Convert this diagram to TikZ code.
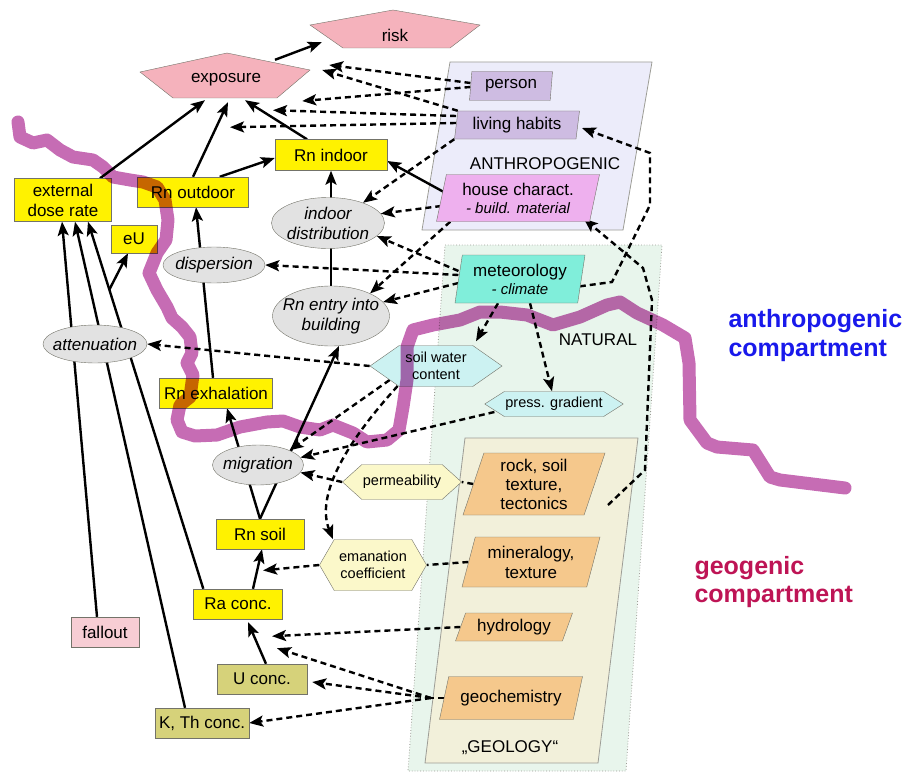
\documentclass[tikz,border=0pt]{standalone}
\usepackage{fontspec}
\setmainfont{Liberation Sans}
\usetikzlibrary{calc,arrows.meta,shapes.geometric,shapes.symbols}
\pgfdeclarelayer{regions}
\pgfdeclarelayer{links}
\pgfsetlayers{regions,links,main}
\definecolor{pinkrisk}{RGB}{245,178,188}
\definecolor{fallpink}{RGB}{247,205,212}
\definecolor{khaki}{RGB}{214,210,122}
\definecolor{lavender}{RGB}{206,188,226}
\definecolor{houseviolet}{RGB}{238,176,238}
\definecolor{anthrobg}{RGB}{236,236,250}
\definecolor{naturebg}{RGB}{232,245,236}
\definecolor{geobg}{RGB}{242,240,218}
\definecolor{geoitem}{RGB}{245,200,140}
\definecolor{meteocol}{RGB}{128,238,218}
\definecolor{palecyan}{RGB}{204,242,242}
\definecolor{paleyellow}{RGB}{251,248,202}
\definecolor{ellgray}{RGB}{226,226,226}
\definecolor{border}{RGB}{115,115,105}
\definecolor{wave}{RGB}{198,108,180}
\definecolor{anthroblue}{RGB}{25,25,235}
\definecolor{geored}{RGB}{190,20,85}

\begin{document}
\begin{tikzpicture}[x=1pt,y=-1pt,
    every node/.style={font=\fontsize{17}{20}\selectfont},
    box/.style={rectangle,draw=border,minimum height=30,inner sep=2,align=center},
    ybox/.style={box,fill=yellow},
    ell/.style={ellipse,draw=border,fill=ellgray,inner xsep=-10pt,inner ysep=-1pt,align=center,
      font=\fontsize{17}{20}\selectfont\itshape},
    para/.style 2 args={trapezium,trapezium left angle=#1,trapezium right angle=#2,
      trapezium stretches body,draw=border,inner sep=2,align=center},
    hexa/.style={signal,signal to=west and east,signal pointer angle=#1,draw=border,inner sep=1,
      align=center,font=\fontsize{14.5}{17}\selectfont},
    arr/.style={line width=2.4pt,-{Stealth[length=14pt,width=11pt,inset=3pt]}},
    darr/.style={arr,dash pattern=on 6pt off 4pt},
    dline/.style={line width=2.4pt,dash pattern=on 6pt off 4pt},
    region/.style={draw=border!70,line width=0.8pt}]
  \useasboundingbox (0,0) rectangle (917,773);

  % compartments
  \begin{pgfonlayer}{regions}
    \filldraw[region,fill=anthrobg] (450,62) -- (652,62) -- (623,230) -- (422,230) -- cycle;
    \filldraw[region,fill=naturebg,dotted] (445,245) -- (662,245) -- (626,771) -- (408,771) -- cycle;
    \filldraw[region,fill=geobg] (465,438) -- (638,438) -- (598,763) -- (425,763) -- cycle;
  \end{pgfonlayer}
  \node (anthrolabel) at (545,164) {ANTHROPOGENIC};
  \node (naturelabel) at (598,340) {NATURAL};
  \node (geolabel) at (510,748) {„GEOLOGY“};

  % exposure and risk
  \filldraw[draw=border,fill=pinkrisk] (140,72) -- (227,53) -- (310,70) -- (277,98) -- (173,98) -- cycle;
  \filldraw[draw=border,fill=pinkrisk] (310,25) -- (393,10) -- (480,25) -- (450,48) -- (343,48) -- cycle;
  \node[minimum width=170,minimum height=36] (exposure) at (226,80) {exposure};
  \node[minimum width=170,minimum height=28] (risk) at (395,35) {risk};

  % anthropogenic factors
  \node[para={82}{98},fill=lavender,minimum width=83,minimum height=29] (person) at (511,86) {person};
  \node[para={80}{100},fill=lavender,minimum width=125,minimum height=28] (habits) at (517,125) {living habits};
  \node[para={74}{106},fill=houseviolet,minimum width=163,minimum height=47] (house) at (518,198)
    {house charact.\\[-2pt]{\fontsize{15}{17}\selectfont\itshape - build. material}};

  % natural factors
  \node[para={78}{102},fill=meteocol,minimum width=130,minimum height=48] (meteo) at (520,279)
    {meteorology\\[-2pt]{\fontsize{15}{17}\selectfont\itshape - climate}};
  \node[hexa=70,fill=palecyan,minimum width=132,minimum height=41] (swc) at (436,366) {soil water\\content};
  \node[hexa=65,fill=palecyan,minimum width=132,minimum height=25] (press) at (554,404) {press. gradient};
  \node[hexa=84,fill=paleyellow,minimum width=109,minimum height=35] (perm) at (402,482) {permeability};
  \node[hexa=120,fill=paleyellow,minimum width=107,minimum height=51] (eman) at (373,565) {emanation\\coefficient};
  \node[para={69}{111},fill=geoitem,minimum width=142,minimum height=62] (rock) at (534,484)
    {rock, soil\\[-1pt]texture,\\[-1pt]tectonics};
  \node[para={70}{110},fill=geoitem,minimum width=138,minimum height=50] (miner) at (531,562) {mineralogy,\\texture};
  \node[para={63}{117},fill=geoitem,minimum width=117,minimum height=28] (hydro) at (514,627) {hydrology};
  \node[para={65}{115},fill=geoitem,minimum width=143,minimum height=43] (geochem) at (511,698) {geochemistry};

  % radiation chain
  \node[ybox,minimum width=97,minimum height=43] (edr) at (63,200) {external\\dose rate};
  \node[ybox,minimum width=111] (rnout) at (193,192) {Rn outdoor};
  \node[ybox,minimum width=112,minimum height=31] (rnin) at (331,155) {Rn indoor};
  \node[ybox,minimum width=46,minimum height=28] (eU) at (134,239) {eU};
  \node[ybox,minimum width=113] (rnexh) at (216,393) {Rn exhalation};
  \node[ybox,minimum width=88] (rnsoil) at (260,534) {Rn soil};
  \node[ybox,minimum width=89] (raconc) at (238,604) {Ra conc.};
  \node[box,fill=khaki,minimum width=90] (uconc) at (262,679) {U conc.};
  \node[box,fill=khaki,minimum width=94] (kth) at (202,723) {K, Th conc.};
  \node[box,fill=fallpink,minimum width=68] (fallout) at (105,632) {fallout};

  \node[ell,minimum width=113,minimum height=51] (indist) at (328,223) {indoor\\distribution};
  \node[ell,minimum width=102,minimum height=36] (disp) at (214,265) {dispersion};
  \node[ell,minimum width=117,minimum height=60] (entry) at (331,316) {Rn entry into\\building};
  \node[ell,minimum width=104,minimum height=38] (atten) at (95,344) {attenuation};
  \node[ell,minimum width=91,minimum height=40] (migr) at (258,465) {migration};

  \begin{pgfonlayer}{links}
    % direct pathways
    \draw[arr] ($(exposure.north)+(49,-2)$) -- ($(risk.south west)+(12,-7)$);
    \draw[arr] ($(edr.north)+(37,0)$) -- ($(exposure.south)+(-21,2)$);
    \draw[arr] (rnout.north) -- ($(exposure.south)+(2,4)$);
    \draw[arr] ($(rnin.north)+(-24,0)$) -- ($(exposure.south)+(19,2)$);
    \draw[arr] ($(rnout.north east)+(-29,0)$) -- ($(rnin.west)+(0,3)$);
    \draw[arr] (entry.north) -- (rnin.south);
    \draw[arr] ($(house.center)+(-45,10)$) -- ($(rnin.east)+(0,6)$);
    \draw[arr] ($(rnexh.north)+(-3,0)$) -- ($(rnout.south)+(3,0)$);
    \draw[arr] (rnsoil.north) -- ($(rnexh.south)+(11,0)$);
    \draw[arr] (rnsoil.north) -- (entry.-75);
    \draw[arr] ($(raconc.north)+(15,0)$) -- coordinate[pos=.45] (ra2rn) ($(rnsoil.south)+(2,0)$);
    \draw[arr] ($(uconc.north)+(4,0)$) -- ($(raconc.south)+(10,3)$);
    \draw[arr] ($(fallout.north)+(-8,0)$) -- ($(edr.south)+(-1,0)$);
    \draw[arr] ($(kth.north)+(-17,0)$) -- ($(edr.south)+(12,0)$);
    \draw[arr] ($(raconc.north west)+(10,0)$) -- coordinate[pos=.815] (ra2eu) ($(edr.south)+(25,0)$);
    \draw[arr] (ra2eu) -- ($(eU.south)+(-6,0)$);

    % anthropogenic influences
    \draw[darr] ($(person.west)+(0,-3)$) -- ($(exposure.east)+(18,-15)$);
    \draw[darr] ($(person.west)+(0,1)$) -- ($(exposure.east)+(-9,21)$);
    \draw[darr] (habits.top left corner) -- ($(exposure.east)+(11,-10)$);
    \draw[darr] ($(habits.west)+(0,-9)$) -- ($(exposure.south)+(47,12)$);
    \draw[darr] ($(habits.west)+(0,-2)$) -- ($(exposure.south)+(4,29)$);
    \draw[darr] (habits.bottom left corner) -- (indist.30);
    \draw[darr] ($(house.west)+(0,8)$) -- (indist.10);
    \draw[darr] ($(house.bottom left corner)+(14,0)$) -- (entry.30);

    % natural influences
    \draw[darr] ($(meteo.west)+(0,-8)$) -- (indist.-15);
    \draw[darr] ($(meteo.west)+(0,-4)$) -- (disp.east);
    \draw[darr] ($(meteo.west)+(0,4)$) -- (entry.15);
    \draw[darr] ($(meteo.south)+(-22,0)$) -- ($(swc.north)+(40,-4)$);
    \draw[darr] ($(meteo.south)+(10,0)$) -- ($(press.north)+(-2,0)$);
    \draw[darr] ($(meteo.center)+(40,10)$) -- ++(52,-7) -- ++(38,-77) -- ++(0,-52) -- ($(habits.east)+(4,3)$);
    \coordinate (geoexit) at (608,505);
    \draw[darr] (geoexit) -- ++(37,-35) -- ++(7,-170) -- ++(-9,-32) -- ($(house.bottom right corner)+(-6,-3)$);
    \draw[darr] (swc.west) -- (atten.east);
    \draw[darr] ($(swc.west)+(20,14)$) -- (migr.25);
    \draw[darr] ($(swc.west)+(28,20)$) .. controls +(-50,55) and +(-18,-45) .. ($(eman.north)+(-40,0)$);
    \draw[darr] ($(press.west)+(10,8)$) -- (migr.10);
    \draw[darr] (perm.west) -- (migr.-10);
    \draw[dline] (rock.west) -- (perm.east);
    \draw[dline] (miner.west) -- (eman.east);
    \draw[darr,shorten >=6pt] (eman.west) -- (ra2rn);
    \coordinate (gcjoin) at ($(geochem.west)+(-13,0)$);
    \draw[dline] (geochem.west) -- (gcjoin);
    \draw[darr] (hydro.west) -- ($(raconc.south)+(34,17)$);
    \draw[darr] (gcjoin) -- ($(raconc.south)+(39,29)$);
    \draw[darr] (gcjoin) -- ($(uconc.east)+(5,3)$);
    \draw[darr] (gcjoin) -- (kth.east);
  \end{pgfonlayer}

  % border between the compartments
  \draw[wave,line width=13pt,line join=round,line cap=round,blend mode=multiply]
    (18,122) -- (20,137) -- (33,143) -- (47,140) -- (60,150) -- (73,157) -- (93,160) -- (103,167)
    -- (113,177) -- (130,180) -- (143,182) -- (157,187) -- (165,200) -- (168,220) -- (166,240)
    -- (157,253) -- (149,273) -- (157,290) -- (167,307) -- (172,318) -- (182,327) -- (190,337)
    -- (192,353) -- (187,363) -- (193,375) -- (190,397) -- (180,405) -- (177,420) -- (182,432)
    -- (195,436) -- (217,435) -- (240,427) -- (267,422) -- (283,421) -- (300,427) -- (320,430)
    -- (333,425) -- (353,433) -- (367,442) -- (387,440) -- (399,430) -- (403,407) -- (407,380)
    -- (407,347) -- (413,330) -- (433,325) -- (460,320) -- (480,312) -- (500,312) -- (527,315)
    -- (553,325) -- (580,317) -- (607,305) -- (620,302) -- (637,313) -- (663,325) -- (685,338)
    -- (689,363) -- (690,420) -- (707,443) -- (717,447) -- (753,450) -- (770,477) -- (780,480)
    -- (845,488);

  \node[anchor=west,align=left,text=anthroblue,font=\fontsize{25}{29}\selectfont\bfseries] (anthrotext)
    at (725,336) {anthropogenic\\compartment};
  \node[anchor=west,align=left,text=geored,font=\fontsize{25}{28}\selectfont\bfseries] (geotext)
    at (691,582) {geogenic\\compartment};
\end{tikzpicture}
\end{document}
